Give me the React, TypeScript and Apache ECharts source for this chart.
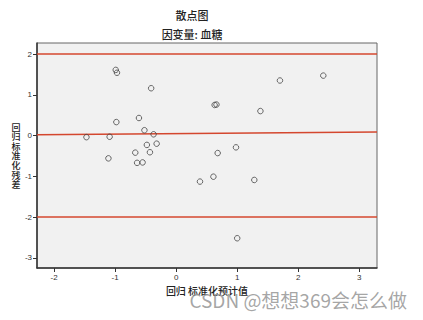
import React, { useEffect, useRef } from "react";
import * as echarts from "echarts";

const xTicks = [-2, -1, 0, 1, 2, 3];
const yTicks = [-3, -2, -1, 0, 1, 2];
const predicted = [
  -0.99, -0.97, -0.41, 1.7, 0.63, 0.66, 1.38, -0.98, -0.61, -0.52, -0.37, -1.09, -0.48, -0.32,
  -1.11, -0.67, -0.43, -0.64, -0.55, 0.98, 0.68, 0.39, 0.61, 1.28, 1.0, 2.41, -1.47,
];
const residual = [
  1.61, 1.54, 1.16, 1.35, 0.75, 0.76, 0.6, 0.33, 0.43, 0.13, 0.03, -0.03, -0.23, -0.2,
  -0.56, -0.42, -0.41, -0.67, -0.66, -0.29, -0.43, -1.13, -1.01, -1.09, -2.52, 1.47, -0.04,
];
const refLevels = [2, -2];
const fitLine: [number, number][] = [
  [-2.28, 0.02],
  [3.29, 0.085],
];
const yName = ["回", "归", "标", "准", "化", "残", "差"];

export default function App() {
  const ref = useRef<HTMLDivElement>(null);
  useEffect(() => {
    if (!ref.current) return;
    const chart = echarts.init(ref.current, null, { renderer: "svg" });
    const points = predicted.map((x, i) => [x, residual[i]]);
    const labelFont = { fontFamily: "Liberation Sans", fontSize: 8, color: "#333" };
    const cjk = "Noto Sans CJK SC";
    chart.setOption({
      animation: false,
      backgroundColor: "#fff",
      grid: { left: 37, right: 46, top: 43, bottom: 52, show: true, backgroundColor: "#f1f1f1", borderColor: "#666", borderWidth: 1 },
      xAxis: {
        type: "value",
        min: -2.28,
        max: 3.29,
        axisLine: { show: true, onZero: false, lineStyle: { color: "#333", width: 1.5 } },
        axisTick: { show: true, customValues: xTicks, length: 4, lineStyle: { color: "#333" } },
        axisLabel: { customValues: xTicks, margin: 5, ...labelFont },
        splitLine: { show: false },
      },
      yAxis: {
        type: "value",
        min: -3.25,
        max: 2.27,
        axisLine: { show: true, onZero: false, lineStyle: { color: "#333", width: 1.5 } },
        axisTick: { show: true, customValues: yTicks, length: 4, lineStyle: { color: "#333" } },
        axisLabel: { customValues: yTicks, margin: 5, ...labelFont },
        splitLine: { show: false },
      },
      series: [
        {
          type: "scatter",
          data: points,
          symbol: "circle",
          symbolSize: 5.5,
          itemStyle: { color: "rgba(0,0,0,0)", borderColor: "#444", borderWidth: 1 },
          z: 5,
          markLine: {
            silent: true,
            symbol: "none",
            label: { show: false },
            lineStyle: { color: "#d4472e", width: 1.5, type: "solid" },
            data: [
              ...refLevels.map((v) => ({ yAxis: v })),
              [{ coord: fitLine[0] }, { coord: fitLine[1] }],
            ],
          },
        },
      ],
      graphic: [
        { type: "text", x: 192, y: 15, style: { text: "散点图", fontFamily: cjk, fontSize: 11, fontWeight: 500, fill: "#222", align: "center", verticalAlign: "middle" } },
        { type: "text", x: 192, y: 34, style: { text: "因变量: 血糖", fontFamily: cjk, fontSize: 11, fontWeight: 500, fill: "#222", align: "center", verticalAlign: "middle" } },
        ...yName.map((c, i) => ({
          type: "text",
          x: 16,
          y: 127 + i * 9.6,
          style: { text: c, fontFamily: cjk, fontSize: 9, fontWeight: 500, fill: "#222", align: "center", verticalAlign: "middle" },
        })),
        { type: "text", x: 207, y: 290, style: { text: "回归 标准化预计值", fontFamily: cjk, fontSize: 10, fontWeight: 500, fill: "#222", align: "center", verticalAlign: "middle" } },
        { type: "text", x: 407, y: 299, style: { text: "CSDN @想想369会怎么做", fontFamily: cjk, fontSize: 19, fill: "rgba(150,150,150,0.85)", align: "right", verticalAlign: "middle" } },
      ],
    });
    return () => chart.dispose();
  }, []);
  return <div ref={ref} style={{ width: 423, height: 320, position: "absolute", left: 0, top: 0 }} />;
}
